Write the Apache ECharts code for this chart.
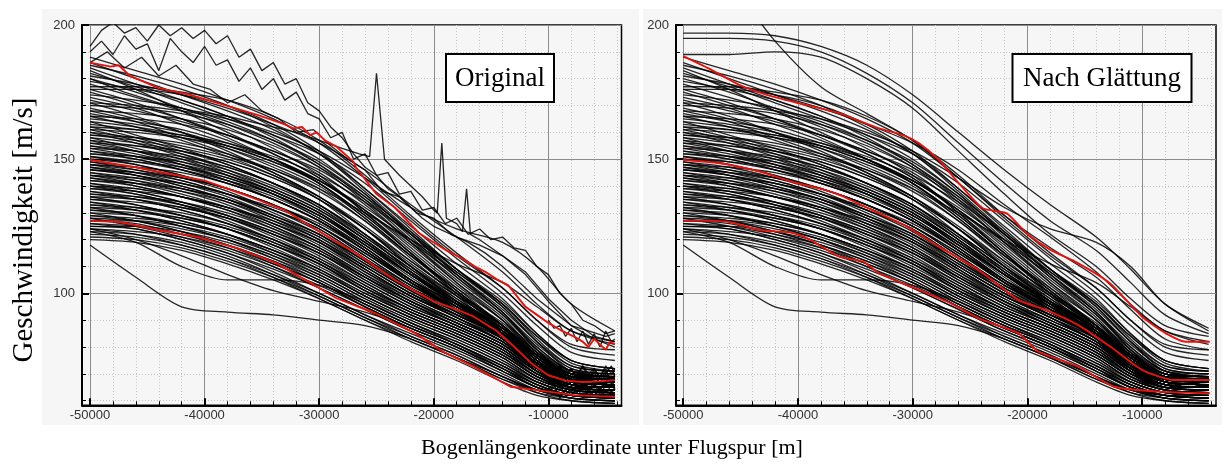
<!DOCTYPE html>
<html>
<head>
<meta charset="utf-8">
<script src="https://cdn.jsdelivr.net/npm/echarts@6/dist/echarts.min.js"></script>
<style>
  html, body { margin: 0; padding: 0; background: #ffffff; }
  #chart { width: 1225px; height: 466px; }
</style>
</head>
<body>
<div id="chart"></div>
<script>
// Distance along the track (m) at which the flight speeds are sampled
const distanceSamples = [-50000, -46000, -42000, -38000, -34000, -30000, -26000, -22000, -18000, -14000, -11000, -8000, -4200];

// Speed (m/s) of every flight at distanceSamples
const flightTracks = [
  [188, 183, 178, 172, 165, 156, 143, 128, 114, 102, 90, 80, 77],
  [186, 180, 174, 168, 161, 152, 138, 123, 109, 96, 84, 74, 71],
  [185, 181, 176, 170, 162, 152, 139, 125, 111, 98, 85, 75, 72],
  [184, 178, 172, 166, 159, 150, 137, 122, 107, 93, 81, 72, 70],
  [183, 176, 168, 160, 152, 143, 131, 117, 103, 90, 78, 69, 67],
  [182, 177, 171, 165, 159, 152, 141, 127, 113, 100, 88, 78, 75],
  [181, 178, 174, 169, 163, 156, 146, 133, 121, 108, 96, 86, 81],
  [180, 175, 169, 163, 156, 147, 134, 119, 104, 90, 77, 69, 68],
  [179, 176, 172, 166, 158, 148, 135, 120, 106, 93, 80, 71, 69],
  [178, 173, 168, 162, 154, 144, 130, 115, 100, 87, 75, 68, 67],
  [177, 177, 175, 172, 166, 157, 144, 129, 115, 102, 90, 81, 79],
  [176, 176, 174, 170, 163, 153, 139, 124, 109, 95, 82, 71, 69],
  [176, 171, 165, 158, 150, 141, 129, 115, 101, 88, 76, 68, 66],
  [175, 170, 165, 159, 152, 143, 130, 116, 102, 88, 75, 67, 66],
  [174, 172, 169, 164, 157, 148, 136, 121, 106, 92, 79, 70, 68],
  [173, 169, 163, 157, 150, 141, 128, 114, 100, 86, 73, 66, 65],
  [172, 168, 164, 159, 153, 146, 135, 122, 108, 95, 82, 72, 70],
  [171, 170, 168, 165, 160, 153, 143, 132, 124, 119, 110, 96, 86],
  [171, 166, 160, 153, 145, 136, 124, 110, 97, 85, 74, 67, 66],
  [170, 169, 167, 163, 157, 149, 137, 122, 107, 93, 79, 69, 68],
  [169, 165, 160, 154, 147, 139, 127, 113, 99, 85, 72, 65, 64],
  [168, 164, 158, 152, 145, 136, 124, 110, 97, 84, 72, 66, 65],
  [168, 167, 165, 161, 155, 147, 136, 123, 109, 96, 83, 73, 71],
  [167, 164, 161, 156, 150, 142, 131, 118, 104, 91, 78, 70, 69],
  [166, 162, 157, 151, 144, 135, 122, 108, 96, 84, 73, 67, 66],
  [166, 165, 163, 159, 153, 145, 133, 119, 105, 92, 80, 71, 69],
  [165, 163, 160, 155, 149, 141, 129, 115, 101, 88, 76, 69, 68],
  [164, 159, 154, 148, 141, 132, 120, 107, 95, 83, 71, 65, 64],
  [164, 162, 159, 155, 149, 142, 132, 120, 108, 96, 84, 75, 72],
  [163, 161, 158, 154, 148, 140, 128, 114, 101, 88, 77, 70, 69],
  [162, 158, 153, 148, 141, 133, 121, 109, 97, 85, 74, 67, 66],
  [162, 161, 159, 156, 151, 144, 134, 122, 109, 97, 85, 75, 72],
  [161, 160, 158, 155, 150, 142, 131, 119, 107, 94, 82, 73, 71],
  [161, 157, 152, 146, 139, 131, 120, 108, 97, 86, 75, 68, 67],
  [160, 158, 155, 151, 146, 139, 130, 120, 111, 104, 95, 86, 82],
  [160, 156, 151, 145, 138, 130, 119, 107, 96, 85, 73, 66, 65],
  [159, 157, 154, 150, 144, 136, 125, 112, 100, 88, 77, 70, 69],
  [159, 158, 156, 152, 146, 138, 127, 114, 102, 90, 79, 71, 69],
  [158, 154, 150, 144, 137, 128, 117, 105, 94, 83, 72, 66, 65],
  [158, 156, 153, 149, 143, 135, 124, 112, 100, 89, 78, 70, 68],
  [157, 155, 152, 147, 141, 133, 122, 110, 98, 86, 75, 68, 67],
  [157, 153, 148, 142, 135, 127, 116, 104, 93, 83, 72, 66, 65],
  [156, 153, 149, 144, 138, 130, 119, 107, 96, 85, 74, 67, 66],
  [156, 155, 153, 149, 143, 135, 124, 111, 99, 88, 77, 69, 68],
  [155, 153, 150, 146, 140, 132, 121, 109, 98, 87, 76, 69, 68],
  [155, 152, 148, 143, 137, 129, 119, 107, 96, 85, 74, 67, 66],
  [154, 151, 147, 142, 136, 128, 117, 105, 95, 84, 73, 67, 66],
  [154, 153, 151, 147, 141, 133, 122, 110, 99, 88, 77, 70, 69],
  [153, 151, 148, 144, 138, 130, 118, 106, 95, 84, 73, 67, 66],
  [153, 150, 146, 141, 135, 127, 117, 105, 94, 84, 73, 67, 66],
  [152, 150, 146, 141, 135, 127, 116, 104, 94, 84, 74, 68, 67],
  [152, 151, 149, 145, 139, 131, 120, 108, 97, 87, 77, 70, 69],
  [151, 149, 146, 142, 137, 129, 118, 107, 97, 87, 76, 69, 68],
  [151, 148, 144, 139, 133, 125, 115, 104, 94, 85, 75, 68, 67],
  [150, 148, 144, 139, 133, 125, 114, 103, 94, 85, 75, 68, 68],
  [150, 149, 147, 143, 137, 129, 118, 107, 97, 88, 78, 71, 70],
  [149, 147, 143, 138, 131, 123, 112, 101, 92, 83, 73, 67, 66],
  [149, 146, 142, 137, 130, 122, 112, 102, 93, 84, 74, 67, 66],
  [148, 146, 143, 139, 133, 126, 116, 105, 96, 87, 77, 70, 69],
  [148, 145, 141, 136, 129, 121, 110, 100, 91, 82, 72, 66, 65],
  [148, 147, 145, 141, 135, 127, 116, 105, 96, 87, 77, 70, 69],
  [147, 145, 142, 137, 131, 124, 113, 102, 93, 84, 74, 68, 67],
  [147, 144, 140, 135, 128, 120, 110, 100, 92, 84, 74, 68, 67],
  [146, 144, 140, 135, 128, 120, 109, 99, 91, 82, 72, 66, 66],
  [146, 144, 141, 137, 132, 125, 115, 104, 95, 86, 76, 69, 69],
  [146, 145, 143, 139, 133, 125, 114, 103, 94, 86, 76, 69, 68],
  [145, 143, 139, 134, 127, 119, 108, 98, 90, 82, 72, 66, 65],
  [145, 142, 138, 133, 126, 118, 108, 99, 91, 83, 73, 67, 66],
  [144, 142, 139, 135, 129, 122, 111, 101, 92, 84, 74, 68, 67],
  [144, 141, 137, 132, 125, 117, 107, 97, 89, 81, 71, 65, 64],
  [144, 143, 141, 137, 131, 124, 113, 103, 95, 87, 77, 70, 69],
  [143, 141, 138, 134, 128, 121, 111, 101, 93, 85, 75, 69, 68],
  [143, 140, 136, 131, 124, 116, 106, 97, 89, 81, 72, 66, 65],
  [142, 140, 136, 131, 125, 117, 106, 96, 88, 80, 71, 66, 65],
  [142, 141, 139, 135, 129, 122, 112, 102, 94, 86, 76, 69, 68],
  [141, 139, 136, 132, 127, 120, 110, 100, 92, 84, 74, 68, 67],
  [141, 138, 134, 129, 123, 115, 105, 96, 88, 80, 71, 66, 65],
  [140, 138, 134, 129, 122, 114, 104, 95, 88, 80, 71, 65, 65],
  [140, 139, 136, 132, 126, 119, 109, 99, 92, 84, 74, 68, 68],
  [140, 137, 133, 127, 120, 112, 102, 93, 86, 78, 70, 65, 64],
  [139, 137, 133, 128, 121, 113, 103, 94, 87, 79, 70, 65, 64],
  [139, 138, 136, 132, 126, 119, 109, 99, 91, 83, 73, 67, 66],
  [138, 136, 133, 129, 123, 116, 106, 97, 90, 82, 72, 67, 66],
  [138, 135, 131, 126, 120, 112, 103, 94, 87, 79, 70, 65, 64],
  [137, 135, 131, 126, 119, 111, 101, 92, 85, 77, 69, 64, 63],
  [137, 136, 134, 130, 124, 117, 107, 98, 90, 82, 73, 67, 66],
  [136, 135, 132, 128, 122, 115, 105, 96, 89, 81, 72, 67, 66],
  [136, 133, 129, 124, 118, 110, 101, 93, 86, 78, 69, 64, 63],
  [135, 133, 129, 124, 117, 109, 99, 91, 84, 76, 68, 64, 63],
  [135, 134, 132, 128, 122, 115, 106, 97, 89, 81, 72, 67, 66],
  [134, 132, 129, 125, 119, 112, 102, 94, 87, 79, 71, 66, 65],
  [134, 131, 127, 122, 116, 108, 99, 91, 84, 76, 68, 64, 63],
  [133, 131, 127, 122, 115, 107, 98, 90, 83, 75, 67, 63, 62],
  [133, 132, 130, 126, 120, 113, 104, 95, 88, 80, 71, 66, 65],
  [132, 131, 128, 124, 118, 111, 101, 93, 86, 78, 70, 65, 65],
  [132, 129, 125, 120, 114, 106, 97, 89, 82, 74, 67, 63, 62],
  [131, 129, 125, 120, 113, 105, 96, 88, 81, 73, 66, 62, 61],
  [131, 130, 128, 124, 118, 111, 102, 94, 87, 79, 70, 66, 65],
  [130, 129, 126, 122, 116, 109, 100, 92, 85, 77, 69, 65, 64],
  [130, 127, 123, 118, 112, 104, 96, 88, 81, 73, 66, 62, 62],
  [129, 127, 123, 118, 111, 104, 95, 87, 80, 72, 65, 62, 61],
  [129, 128, 126, 122, 116, 109, 100, 92, 85, 77, 69, 65, 64],
  [128, 127, 124, 120, 114, 107, 98, 90, 83, 75, 68, 64, 63],
  [128, 125, 121, 116, 110, 103, 95, 87, 80, 72, 66, 62, 61],
  [127, 126, 122, 117, 110, 102, 94, 86, 79, 71, 65, 61, 60],
  [127, 127, 125, 121, 115, 108, 99, 91, 84, 76, 68, 64, 63],
  [126, 125, 122, 118, 112, 105, 96, 88, 81, 73, 67, 63, 62],
  [126, 124, 120, 115, 109, 102, 94, 86, 79, 71, 65, 62, 61],
  [125, 124, 120, 115, 108, 100, 92, 84, 77, 69, 64, 61, 60],
  [125, 125, 123, 119, 113, 106, 97, 89, 82, 74, 67, 63, 62],
  [124, 123, 121, 117, 111, 104, 95, 87, 80, 72, 66, 62, 61],
  [124, 122, 118, 113, 107, 100, 92, 85, 78, 70, 64, 61, 60],
  [124, 120, 114, 107, 101, 97, 93, 87, 80, 71, 65, 62, 61],
  [123, 122, 119, 114, 107, 99, 91, 83, 76, 68, 63, 61, 60],
  [123, 119, 110, 105, 105, 103, 97, 89, 81, 72, 65, 62, 61],
  [122, 121, 118, 113, 106, 98, 90, 82, 75, 67, 62, 60, 59],
  [121, 120, 117, 112, 106, 99, 91, 84, 77, 69, 64, 61, 60],
  [120, 119, 116, 111, 105, 98, 90, 83, 76, 69, 63, 60, 59],
  [118, 106, 95, 93, 92, 90, 88, 83, 76, 68, 64, 62, 61]
];

// Fastest flights after smoothing (same distances)
const topTracksSmoothed = [
  [197, 197, 196, 192, 185, 174, 160, 146, 133, 121, 109, 96, 87],
  [195, 195, 194, 190, 182, 171, 156, 141, 127, 116, 104, 92, 85],
  [189, 189, 190, 188, 180, 169, 153, 137, 122, 110, 98, 88, 84],
  [230, 216, 194, 177, 167, 157, 143, 129, 117, 106, 94, 83, 79]
];

// Fastest flights as recorded, [distance, speed]
const topTracksRaw = [
  [[-50000, 192], [-49000, 198], [-48000, 201], [-47000, 197], [-46000, 199], [-45000, 194], [-44000, 200], [-43000, 196], [-42000, 199], [-41000, 195], [-40000, 198], [-39000, 193], [-38000, 196], [-37000, 188], [-36000, 191], [-35000, 183], [-34000, 186], [-33000, 178], [-32000, 180], [-31000, 171], [-30000, 168], [-29000, 162], [-28000, 158], [-27000, 152], [-26000, 147], [-25000, 144], [-24000, 139], [-23000, 136], [-22000, 132], [-21000, 128], [-20000, 125], [-18000, 121], [-16000, 118], [-14000, 114], [-12000, 108], [-10000, 98], [-8000, 90], [-6000, 84], [-4200, 82]],
  [[-50000, 190], [-49000, 194], [-48000, 189], [-47000, 196], [-46000, 191], [-45000, 193], [-44000, 183], [-43000, 195], [-42000, 190], [-41000, 186], [-40000, 192], [-39000, 185], [-38000, 187], [-37000, 179], [-36000, 184], [-35000, 176], [-34000, 180], [-33000, 172], [-32000, 175], [-31000, 167], [-30000, 165], [-29000, 158], [-28000, 160], [-27000, 150], [-26000, 152], [-25000, 144], [-24000, 145], [-23000, 137], [-22000, 138], [-21000, 131], [-20000, 132], [-19000, 126], [-18000, 128], [-17000, 122], [-16000, 124], [-15000, 120], [-14000, 121], [-13000, 117], [-12000, 116], [-11000, 110], [-10000, 107], [-9000, 100], [-8000, 96], [-7000, 90], [-6000, 88], [-5000, 85], [-4200, 86]],
  [[-50000, 186], [-48500, 190], [-47000, 184], [-45500, 188], [-44000, 181], [-42500, 185], [-41000, 178], [-39500, 176], [-38000, 171], [-36500, 174], [-35000, 168], [-33500, 165], [-32000, 160], [-30500, 161], [-29000, 155], [-27500, 150], [-26000, 146], [-24500, 138], [-23000, 136], [-21500, 130], [-20000, 128], [-18500, 122], [-17000, 119], [-15500, 115], [-14000, 110], [-12500, 104], [-11000, 98], [-9500, 93], [-8000, 88], [-6500, 86], [-5000, 84], [-4200, 85]],
  [[-50000, 180], [-47000, 175], [-44000, 171], [-41000, 168], [-38000, 166], [-35000, 163], [-32000, 160], [-30000, 157], [-28000, 154], [-26500, 152], [-25600, 151], [-25000, 182], [-24300, 150], [-23000, 144], [-22000, 140], [-21000, 136], [-20000, 131], [-19700, 130], [-19300, 156], [-18900, 128], [-18000, 126], [-17500, 123], [-17140, 139], [-16800, 122], [-16000, 120], [-14000, 114], [-12000, 107], [-10000, 97], [-8000, 88], [-6000, 83], [-4200, 80]]
];

// Recorded speed scatter near the runway
const tailDistances = [-10000, -9500, -9000, -8500, -8000, -7500, -7000, -6500, -6000, -5500, -5000, -4500, -4200];
const tailTracksRaw = [
  [72, 70, 73, 69, 72, 68, 71, 67, 72, 68, 71, 67, 70],
  [68, 66, 69, 65, 68, 64, 67, 63, 66, 64, 67, 63, 65],
  [74, 71, 73, 70, 72, 69, 73, 70, 72, 69, 73, 70, 72],
  [65, 63, 66, 62, 65, 63, 66, 62, 64, 61, 64, 62, 63],
  [90, 87, 88, 84, 87, 82, 86, 81, 85, 80, 86, 82, 83],
  [70, 67, 70, 66, 69, 71, 66, 70, 65, 69, 72, 66, 68],
  [66, 69, 64, 67, 63, 66, 69, 64, 67, 62, 66, 69, 64],
  [71, 73, 68, 72, 67, 70, 73, 68, 71, 66, 70, 73, 69],
  [63, 66, 61, 64, 62, 65, 61, 64, 62, 65, 61, 63, 62]
];

// Percentile curves (5 %, 50 %, 95 %), [distance, speed]
const p95Original = [[-50000, 186], [-48200, 184.5], [-47500, 185], [-46500, 181], [-44000, 176.5], [-41300, 174], [-38900, 171], [-35400, 166.5], [-33000, 163], [-32300, 161.5], [-31500, 162], [-30800, 159], [-30200, 160], [-29500, 157], [-28500, 154.7], [-27800, 152], [-27000, 149], [-26800, 147], [-25000, 137], [-23400, 132], [-21300, 122.5], [-18900, 116], [-17500, 113], [-16400, 110], [-15500, 108], [-14400, 105], [-13500, 103], [-12000, 95], [-11000, 92], [-10000, 89], [-8800, 86], [-7800, 84], [-7000, 82], [-6500, 80], [-6000, 83], [-5500, 81], [-5000, 79], [-4600, 82], [-4200, 81]];
const p50Original = [[-50000, 149.7], [-46000, 147], [-43000, 144.5], [-40000, 142], [-36000, 136], [-33000, 131], [-30200, 123.6], [-26800, 115], [-23400, 105], [-20000, 97], [-18000, 94], [-16500, 91.3], [-14500, 86], [-13000, 80.2], [-11500, 74], [-10000, 69.5], [-8500, 67.5], [-7000, 67], [-5500, 67.2], [-4200, 67.7]];
const p5Original = [[-50000, 127], [-47500, 126.7], [-44000, 123.6], [-40600, 121], [-37100, 116.8], [-33700, 111.2], [-30200, 102.5], [-28500, 98.2], [-25100, 92.6], [-21600, 85.1], [-19200, 78.3], [-16500, 72.7], [-13300, 65.2], [-10000, 63.4], [-7800, 62.1], [-5500, 61.7], [-4200, 61.5]];

const p95Smoothed = [[-50000, 188.4], [-47500, 183.2], [-45070, 177.6], [-42640, 173.9], [-39860, 170.8], [-36390, 167.1], [-32920, 161.5], [-30830, 159], [-29440, 155.9], [-27710, 149.7], [-25970, 141], [-23890, 131.7], [-21810, 129.8], [-20070, 122.4], [-17990, 116.2], [-15560, 111.2], [-12780, 103.7], [-10000, 91.3], [-7920, 85.1], [-6180, 82], [-4100, 82]];
const p50Smoothed = [[-50000, 149.7], [-46800, 148.5], [-43330, 145.4], [-40560, 141.6], [-38130, 139.1], [-36390, 136.7], [-32920, 129.8], [-30490, 124.9], [-27710, 117.4], [-24240, 108.7], [-20770, 97.5], [-18340, 93.8], [-15560, 88.2], [-12780, 80.2], [-10000, 71.5], [-7220, 67.7], [-4100, 67.7]];
const p5Smoothed = [[-50000, 127.1], [-46110, 126.7], [-43330, 123.6], [-40560, 122.6], [-39170, 120.5], [-36390, 113.7], [-34310, 111.8], [-32920, 107.5], [-30140, 102.5], [-26670, 96.3], [-24240, 90.7], [-20770, 85.1], [-19030, 78.3], [-15560, 72.7], [-12430, 65.2], [-8610, 63.4], [-4100, 62.8]];

// Axis ticks
const xMajorTicks = [-50000, -40000, -30000, -20000, -10000];
const xMinorTicks = [-48000, -46000, -44000, -42000, -38000, -36000, -34000, -32000, -28000, -26000, -24000, -22000, -18000, -16000, -14000, -12000, -8000, -6000, -4000];
const yMajorTicks = [100, 150, 200];
const yMinorTicks = [60, 70, 80, 90, 110, 120, 130, 140, 160, 170, 180, 190];

const panelTitles = ['Original', 'Nach Glättung'];
const yTitle = 'Geschwindigkeit [m/s]';
const xTitle = 'Bogenlängenkoordinate unter Flugspur [m]';

const TRACK_COLOR = 'rgba(0,0,0,0.85)';
const TRACK_WIDTH = 1.3;
const PCT_COLOR = '#e2140f';
const PANEL_BG = '#f6f6f6';
const LABEL_FONT = 'Liberation Sans';
const SERIF = 'Liberation Serif';

const chart = echarts.init(document.getElementById('chart'), null, { renderer: 'canvas' });

const grids = [
  { left: 82, top: 25, width: 539.5, height: 380.3 },
  { left: 676, top: 25, width: 540, height: 380.3 }
];
const xRanges = [[-50700, -3620], [-50630, -3560]];

function majorX(g) {
  return {
    type: 'value', gridIndex: g, position: 'bottom', min: xRanges[g][0], max: xRanges[g][1],
    axisLine: { show: true, onZero: false, lineStyle: { color: '#000', width: 2 } },
    axisTick: { show: true, inside: true, length: 7, customValues: xMajorTicks, lineStyle: { color: '#000', width: 2 } },
    axisLabel: { customValues: xMajorTicks, formatter: v => String(v), color: '#333', fontFamily: LABEL_FONT, fontSize: 13, margin: 4 },
    splitLine: { show: true, lineStyle: { color: '#8c8c8c', width: 1 } },
    minorTick: { show: false }, minorSplitLine: { show: false }
  };
}
function minorX(g) {
  return {
    type: 'value', gridIndex: g, position: 'bottom', min: xRanges[g][0], max: xRanges[g][1],
    axisLine: { show: false, onZero: false },
    axisTick: { show: true, inside: true, length: 4, customValues: xMinorTicks, lineStyle: { color: '#000', width: 1 } },
    axisLabel: { show: false },
    splitLine: { show: true, lineStyle: { color: '#c6c6c6', width: 1, type: [1, 2] } }
  };
}
function majorY(g) {
  return {
    type: 'value', gridIndex: g, position: 'left', min: 58.3, max: 200,
    axisLine: { show: true, onZero: false, lineStyle: { color: '#000', width: 2 } },
    axisTick: { show: true, inside: true, length: 7, customValues: yMajorTicks, lineStyle: { color: '#000', width: 2 } },
    axisLabel: { customValues: yMajorTicks, formatter: v => String(v), color: '#333', fontFamily: LABEL_FONT, fontSize: 13, margin: 7 },
    splitLine: { show: true, lineStyle: { color: '#8c8c8c', width: 1 } },
    minorTick: { show: false }, minorSplitLine: { show: false }
  };
}
function minorY(g) {
  return {
    type: 'value', gridIndex: g, position: 'left', min: 58.3, max: 200,
    axisLine: { show: false, onZero: false },
    axisTick: { show: true, inside: true, length: 4, customValues: yMinorTicks, lineStyle: { color: '#000', width: 1 } },
    axisLabel: { show: false },
    splitLine: { show: true, lineStyle: { color: '#c6c6c6', width: 1, type: [1, 2] } }
  };
}

function lineSeries(points, g, color, width, smooth, z) {
  return {
    type: 'line', xAxisIndex: g * 2, yAxisIndex: g * 2, data: points,
    smooth: smooth, symbol: 'none', showSymbol: false, silent: true, clip: true,
    lineStyle: { color: color, width: width }, z: z, animation: false
  };
}
function sampled(values) {
  return distanceSamples.map((d, i) => [d, values[i]]);
}

const series = [];
// Panel 0: recorded speeds
flightTracks.forEach(t => series.push(lineSeries(sampled(t), 0, TRACK_COLOR, TRACK_WIDTH, 0.3, 2)));
topTracksRaw.forEach(t => series.push(lineSeries(t, 0, TRACK_COLOR, TRACK_WIDTH, false, 2)));
tailTracksRaw.forEach(t => series.push(lineSeries(tailDistances.map((d, i) => [d, t[i]]), 0, TRACK_COLOR, TRACK_WIDTH, false, 2)));
[p95Original, p50Original, p5Original].forEach(p => series.push(lineSeries(p, 0, PCT_COLOR, 1.9, false, 3)));
// Panel 1: smoothed speeds
flightTracks.forEach(t => series.push(lineSeries(sampled(t), 1, TRACK_COLOR, TRACK_WIDTH, 0.3, 2)));
topTracksSmoothed.forEach(t => series.push(lineSeries(sampled(t), 1, TRACK_COLOR, TRACK_WIDTH, 0.3, 2)));
[p95Smoothed, p50Smoothed, p5Smoothed].forEach(p => series.push(lineSeries(p, 1, PCT_COLOR, 1.9, 0.2, 3)));

function titleBox(cx, w, text) {
  return {
    type: 'group', z: 50,
    children: [
      { type: 'rect', shape: { x: cx - w / 2, y: 54, width: w, height: 48 }, style: { fill: '#fff', stroke: '#000', lineWidth: 2 }, z: 50 },
      { type: 'text', x: cx, y: 79, style: { text: text, font: '27px "' + SERIF + '"', fill: '#000', align: 'center', verticalAlign: 'middle' }, z: 51 }
    ]
  };
}

chart.setOption({
  backgroundColor: '#ffffff',
  animation: false,
  grid: grids.map(g => Object.assign({ show: true, backgroundColor: 'transparent', borderColor: '#000', borderWidth: 1.5, containLabel: false }, g)),
  xAxis: [majorX(0), minorX(0), majorX(1), minorX(1)],
  yAxis: [majorY(0), minorY(0), majorY(1), minorY(1)],
  series: series,
  graphic: {
    elements: [
      { type: 'rect', shape: { x: 42, y: 9, width: 597, height: 416 }, style: { fill: PANEL_BG }, z: -10 },
      { type: 'rect', shape: { x: 643, y: 9, width: 579, height: 416 }, style: { fill: PANEL_BG }, z: -10 },
      titleBox(500, 108, panelTitles[0]),
      titleBox(1102, 179, panelTitles[1]),
      { type: 'text', x: 24, y: 230, rotation: Math.PI / 2, style: { text: yTitle, font: '29px "' + SERIF + '"', fill: '#000', align: 'center', verticalAlign: 'middle' }, z: 20 },
      { type: 'text', x: 612, y: 448, style: { text: xTitle, font: '22px "' + SERIF + '"', fill: '#000', align: 'center', verticalAlign: 'middle' }, z: 20 }
    ]
  }
});
</script>
</body>
</html>
